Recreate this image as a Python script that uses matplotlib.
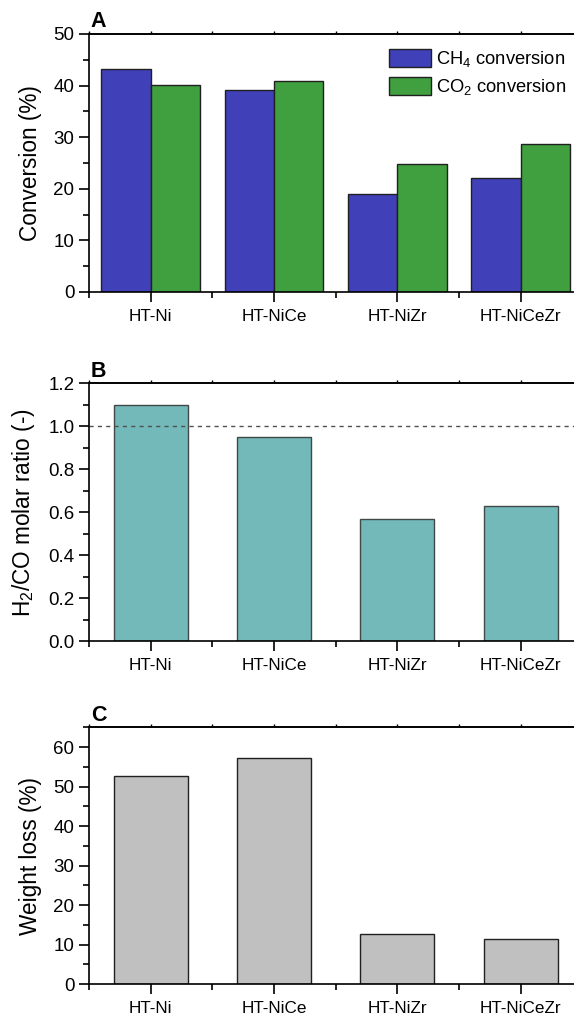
import numpy as np
import matplotlib
matplotlib.use('Agg')
import matplotlib.pyplot as plt
from matplotlib.ticker import MultipleLocator, FixedLocator

plt.rcParams['font.family'] = ['Liberation Sans', 'DejaVu Sans']
plt.rcParams['mathtext.default'] = 'regular'

samples = ['HT-Ni', 'HT-NiCe', 'HT-NiZr', 'HT-NiCeZr']
ch4_conv = [43.3, 39.2, 18.9, 22.0]
co2_conv = [40.1, 40.9, 24.8, 28.7]
h2_co = [1.10, 0.95, 0.57, 0.63]
weight_loss = [52.7, 57.3, 12.7, 11.3]

x = np.arange(len(samples))

fig = plt.figure(figsize=(5.74, 10.17), dpi=100)
axA = fig.add_axes([0.155, 0.7129, 0.85, 0.2537])
axB = fig.add_axes([0.155, 0.3697, 0.85, 0.2534])
axC = fig.add_axes([0.155, 0.0324, 0.85, 0.2525])

def style(ax, label, ylabel):
    ax.set_xlim(-0.5, 3.455)
    ax.spines['right'].set_visible(False)
    for s in ax.spines.values():
        s.set_linewidth(1.2)
    ax.set_xticks(x)
    ax.set_xticklabels(samples, fontsize=12.3)
    ax.xaxis.set_minor_locator(FixedLocator([-0.5, 0.5, 1.5, 2.5]))
    ax.tick_params(axis='x', which='major', direction='out', length=7, width=1.2, pad=5)
    ax.tick_params(axis='x', which='minor', direction='out', length=4, width=1.2)
    ax.tick_params(axis='y', which='major', direction='out', length=7, width=1.2, labelsize=13.5, right=False)
    ax.tick_params(axis='y', which='minor', direction='out', length=4, width=1.2, right=False)
    top = ax.secondary_xaxis('top')
    top.set_xticks(x)
    top.xaxis.set_minor_locator(FixedLocator([-0.5, 0.5, 1.5, 2.5]))
    top.tick_params(which='both', direction='out', length=2, width=1.0, labeltop=False)
    top.spines['top'].set_linewidth(1.2)
    ax.set_ylabel(ylabel, fontsize=16.3, labelpad=8)
    ax.text(0.004, 1.006, label, transform=ax.transAxes, fontsize=15.5,
            fontweight='bold', ha='left', va='bottom')

# A
axA.bar(x - 0.2, ch4_conv, width=0.4, color='#4040B8', edgecolor='#202020', linewidth=1.0,
        label='CH$_4$ conversion')
axA.bar(x + 0.2, co2_conv, width=0.4, color='#40A040', edgecolor='#202020', linewidth=1.0,
        label='CO$_2$ conversion')
axA.set_ylim(0, 50)
axA.yaxis.set_major_locator(MultipleLocator(10))
axA.yaxis.set_minor_locator(MultipleLocator(5))
style(axA, 'A', 'Conversion (%)')
axA.legend(loc='upper right', bbox_to_anchor=(1.012, 1.005), frameon=False, fontsize=13.2,
           handlelength=2.25, handleheight=1.1, handletextpad=0.3, labelspacing=0.45)

# B
axB.bar(x, h2_co, width=0.6, color='#74B9B9', edgecolor='#404848', linewidth=1.0)
axB.axhline(1.0, color='#505050', linestyle=(0, (3, 3)), linewidth=1.0)
axB.set_ylim(0, 1.2)
axB.yaxis.set_major_locator(MultipleLocator(0.2))
axB.yaxis.set_minor_locator(MultipleLocator(0.1))
axB.yaxis.set_major_formatter(matplotlib.ticker.FormatStrFormatter('%.1f'))
style(axB, 'B', 'H$_2$/CO molar ratio (-)')

# C
axC.bar(x, weight_loss, width=0.6, color='#C0C0C0', edgecolor='#202020', linewidth=1.0)
axC.set_ylim(0, 65)
axC.yaxis.set_major_locator(MultipleLocator(10))
axC.yaxis.set_minor_locator(MultipleLocator(5))
style(axC, 'C', 'Weight loss (%)')

fig.savefig('out.png', dpi=100)
